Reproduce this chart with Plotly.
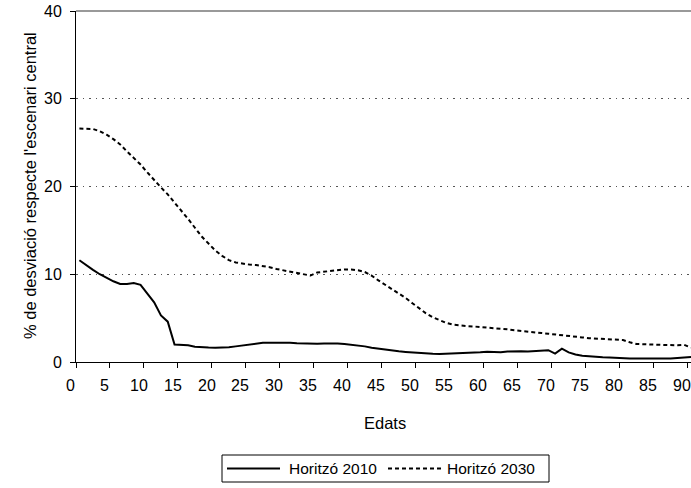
import plotly.graph_objects as go

ages = list(range(0, 91))

horitzo_2010 = [
    11.6, 11.0, 10.5, 10.0, 9.6, 9.2, 8.9, 8.9, 9.0, 8.8,
    7.8, 6.8, 5.3, 4.6, 2.0, 1.95, 1.9, 1.75, 1.68, 1.65,
    1.63, 1.63, 1.68, 1.78, 1.88, 2.0, 2.1, 2.18, 2.2, 2.22,
    2.22, 2.2, 2.15, 2.12, 2.1, 2.08, 2.12, 2.15, 2.12, 2.05,
    1.98, 1.9, 1.78, 1.62, 1.5, 1.42, 1.32, 1.22, 1.15, 1.08,
    1.02, 0.97, 0.93, 0.9, 0.92, 0.95, 0.98, 0.98, 1.0, 1.1,
    1.18, 1.12, 1.1, 1.2, 1.25, 1.22, 1.2, 1.26, 1.3, 1.35,
    0.95, 1.52, 1.1, 0.85, 0.72, 0.64, 0.6, 0.54, 0.5, 0.45,
    0.42, 0.4, 0.39, 0.38, 0.37, 0.37, 0.38, 0.4, 0.45, 0.5,
    0.57,
]

horitzo_2030 = [
    26.6, 26.6, 26.55, 26.3, 25.9, 25.4, 24.8, 24.0, 23.3, 22.5,
    21.6, 20.7, 19.9, 19.1, 18.2, 17.3, 16.3, 15.3, 14.3, 13.5,
    12.7, 12.1, 11.6, 11.35, 11.2, 11.1, 11.05, 10.95, 10.8, 10.6,
    10.45, 10.3, 10.15, 10.0, 9.85, 10.2, 10.3, 10.4, 10.5, 10.55,
    10.55, 10.45, 10.25, 9.85, 9.3, 8.8, 8.35, 7.85, 7.3, 6.7,
    6.1, 5.55, 5.1, 4.75, 4.45, 4.25, 4.15, 4.1, 4.05, 4.0,
    3.95, 3.88, 3.8, 3.72, 3.62, 3.52, 3.45, 3.38, 3.3, 3.22,
    3.12, 3.02, 2.95, 2.88, 2.8, 2.72, 2.68, 2.62, 2.58, 2.55,
    2.5, 2.25, 2.05, 2.02, 2.0, 1.97, 1.92, 1.88, 1.9, 1.95,
    1.65,
]

series_names = ["Horitzó 2010", "Horitzó 2030"]
x_ticks = list(range(0, 91, 5))
x_ticklabels = [str(v) for v in x_ticks]
y_ticks = [0, 10, 20, 30, 40]

# category centres sit half a step to the right of the tick marks
xpos = [a + 0.5 for a in ages]

FONT = "Liberation Sans, Arial, sans-serif"

W, H = 691, 488
ML, MT, MR, MB = 76, 11, 0, 126
PW, PH = W - ML - MR, H - MT - MB


def px2paper_x(px):
    return (px - ML) / PW


def px2paper_y(py):
    return (H - MB - py) / PH


fig = go.Figure()
fig.add_trace(go.Scatter(
    x=xpos, y=horitzo_2010, mode="lines", name=series_names[0],
    line=dict(color="black", width=2), showlegend=False,
))
fig.add_trace(go.Scatter(
    x=xpos, y=horitzo_2030, mode="lines", name=series_names[1],
    line=dict(color="black", width=2, dash="4px,3px"), showlegend=False,
))

fig.update_layout(
    width=W, height=H,
    margin=dict(l=ML, r=MR, t=MT, b=MB, autoexpand=False),
    paper_bgcolor="white", plot_bgcolor="white",
    font=dict(family=FONT, size=15, color="black"),
    showlegend=False,
)

fig.update_xaxes(
    range=[0, 90.5], automargin=False,
    tickmode="array", tickvals=x_ticks, showticklabels=False,
    ticks="outside", ticklen=5, tickcolor="black", tickwidth=1,
    showgrid=False, zeroline=False,
    showline=True, linecolor="black", linewidth=1,
)

fig.update_yaxes(
    range=[0, 40], automargin=False,
    tickmode="array", tickvals=y_ticks,
    ticks="outside", ticklen=5, tickcolor="black", tickwidth=1,
    ticklabelstandoff=5,
    showline=True, linecolor="black", linewidth=1,
    showgrid=True, gridcolor="#555", griddash="1.5px,5px", gridwidth=1,
    zeroline=False,
    tickfont=dict(family=FONT, size=16, color="black"),
)

# x tick labels (drawn slightly left of the tick marks, as in the original)
for v, t in zip(x_ticks, x_ticklabels):
    fig.add_annotation(
        x=v, xref="x", xshift=-5.4, y=0, yref="paper", yshift=-23,
        text=t, showarrow=False, xanchor="center", yanchor="middle",
        font=dict(family=FONT, size=16, color="black"),
    )

# axis titles
fig.add_annotation(
    x=px2paper_x(385), xref="paper", y=px2paper_y(423), yref="paper",
    text="Edats", showarrow=False, xanchor="center", yanchor="middle",
    font=dict(family=FONT, size=16.5, color="black"),
)
fig.add_annotation(
    x=px2paper_x(30), xref="paper", y=px2paper_y(186), yref="paper",
    text="% de desviació respecte l'escenari central", textangle=-90,
    showarrow=False, xanchor="center", yanchor="middle",
    font=dict(family=FONT, size=16.5, color="black"),
)

# plot-area top border
fig.add_shape(type="line", xref="paper", yref="paper", x0=0, x1=1, y0=1, y1=1,
              line=dict(color="#999999", width=2))

# legend box
lx0, lx1, ly0, ly1 = 222, 549, 455, 482
lyc = (ly0 + ly1) / 2
fig.add_shape(type="rect", xref="paper", yref="paper",
              x0=px2paper_x(lx0), x1=px2paper_x(lx1), y0=px2paper_y(ly1), y1=px2paper_y(ly0),
              line=dict(color="black", width=1), fillcolor="white", layer="above")
fig.add_shape(type="line", xref="paper", yref="paper",
              x0=px2paper_x(227), x1=px2paper_x(280), y0=px2paper_y(lyc), y1=px2paper_y(lyc),
              line=dict(color="black", width=2))
fig.add_shape(type="line", xref="paper", yref="paper",
              x0=px2paper_x(388), x1=px2paper_x(442), y0=px2paper_y(lyc), y1=px2paper_y(lyc),
              line=dict(color="black", width=2, dash="4px,3px"))
for name, tx in zip(series_names, [287, 445]):
    fig.add_annotation(
        x=px2paper_x(tx), xref="paper", y=px2paper_y(lyc), yref="paper",
        text=name, showarrow=False, xanchor="left", yanchor="middle",
        font=dict(family=FONT, size=15.5, color="black"),
    )

# remove the default page margin so the figure fills the window exactly
fig.write_html("out.html", config={"displayModeBar": False},
               post_script="document.body.style.margin='0';")
